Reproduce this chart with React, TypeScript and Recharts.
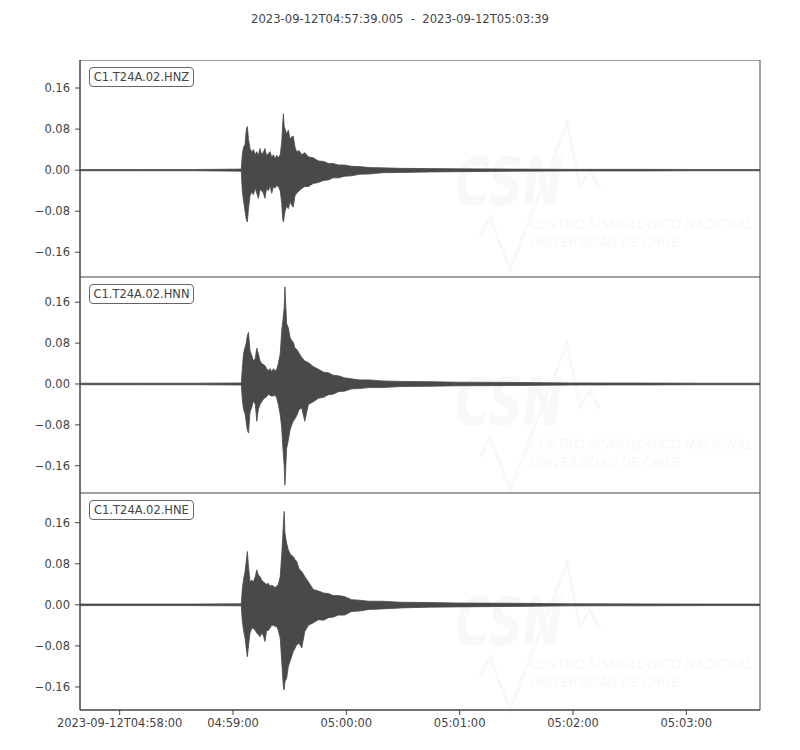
import React from 'react';
import { AreaChart, Area, XAxis, YAxis, ReferenceArea } from 'recharts';

// seconds after 2023-09-12T04:57:39.005
const seconds = [
  0, 30, 60, 85.4, 85.9, 86.6, 87.4, 88.0, 88.6, 89.2,
  90.0, 91.0, 91.8, 92.8, 93.6, 94.4, 95.3, 96.2, 97.1, 97.9,
  98.8, 99.7, 100.6, 101.5, 102.4, 103.3, 104.1, 105.0, 106.0, 106.8,
  107.3, 107.7, 108.1, 108.5, 109.4, 110.3, 111.2, 112.1, 112.9, 113.8,
  114.7, 116.0, 117.4, 119.0, 120.9, 123.5, 126.2, 129.0, 131.5, 134.0,
  136.8, 140.0, 143.8, 148, 153, 160, 170, 185, 200, 230,
  260, 300, 330, 360,
];

const hnzHi = [
  0.0012, 0.0012, 0.0012, 0.002, 0.030, 0.045, 0.050, 0.078, 0.085, 0.060,
  0.042, 0.035, 0.040, 0.030, 0.036, 0.028, 0.042, 0.030, 0.035, 0.042,
  0.028, 0.032, 0.036, 0.025, 0.030, 0.022, 0.029, 0.024, 0.030, 0.055,
  0.090, 0.110, 0.085, 0.081, 0.070, 0.078, 0.060, 0.065, 0.066, 0.045,
  0.036, 0.038, 0.030, 0.034, 0.026, 0.024, 0.018, 0.017, 0.013, 0.013,
  0.010, 0.010, 0.0075, 0.007, 0.005, 0.0045, 0.0035, 0.003, 0.0025, 0.002,
  0.0015, 0.0015, 0.0012, 0.0012,
];
const hnzLo = [
  -0.0012, -0.0012, -0.0012, -0.002, -0.040, -0.060, -0.080, -0.095, -0.101, -0.075,
  -0.050, -0.042, -0.048, -0.035, -0.045, -0.055, -0.038, -0.040, -0.045, -0.055,
  -0.035, -0.040, -0.030, -0.045, -0.032, -0.035, -0.030, -0.032, -0.040, -0.065,
  -0.095, -0.101, -0.090, -0.081, -0.070, -0.075, -0.062, -0.068, -0.072, -0.050,
  -0.045, -0.040, -0.036, -0.032, -0.032, -0.026, -0.024, -0.020, -0.019, -0.015,
  -0.015, -0.012, -0.011, -0.008, -0.0075, -0.005, -0.0045, -0.0035, -0.003, -0.002,
  -0.0015, -0.0015, -0.0012, -0.0012,
];

const hnnHi = [
  0.0015, 0.0015, 0.0015, 0.002, 0.030, 0.060, 0.072, 0.080, 0.095, 0.101,
  0.065, 0.055, 0.045, 0.050, 0.070, 0.060, 0.045, 0.040, 0.038, 0.036,
  0.030, 0.026, 0.030, 0.024, 0.030, 0.026, 0.028, 0.040, 0.059, 0.105,
  0.120, 0.135, 0.150, 0.190, 0.118, 0.110, 0.091, 0.085, 0.082, 0.070,
  0.068, 0.060, 0.052, 0.045, 0.042, 0.034, 0.029, 0.023, 0.022, 0.017,
  0.016, 0.012, 0.010, 0.008, 0.008, 0.006, 0.005, 0.0045, 0.0035, 0.003,
  0.002, 0.0018, 0.0015, 0.0015,
];
const hnnLo = [
  -0.0015, -0.0015, -0.0015, -0.002, -0.030, -0.050, -0.059, -0.075, -0.090, -0.096,
  -0.055, -0.045, -0.033, -0.040, -0.073, -0.050, -0.040, -0.035, -0.030, -0.027,
  -0.025, -0.020, -0.022, -0.024, -0.023, -0.022, -0.027, -0.040, -0.060, -0.086,
  -0.120, -0.139, -0.160, -0.198, -0.126, -0.110, -0.090, -0.080, -0.073, -0.068,
  -0.062, -0.050, -0.047, -0.073, -0.040, -0.035, -0.028, -0.026, -0.021, -0.020,
  -0.015, -0.014, -0.0095, -0.009, -0.007, -0.007, -0.005, -0.0045, -0.0035, -0.003,
  -0.002, -0.0018, -0.0015, -0.0015,
];

const hneHi = [
  0.0015, 0.0015, 0.0015, 0.002, 0.030, 0.050, 0.065, 0.085, 0.104, 0.075,
  0.045, 0.048, 0.045, 0.055, 0.068, 0.058, 0.055, 0.048, 0.045, 0.042,
  0.040, 0.042, 0.036, 0.038, 0.036, 0.034, 0.036, 0.040, 0.055, 0.0975,
  0.130, 0.160, 0.182, 0.140, 0.120, 0.107, 0.100, 0.096, 0.094, 0.088,
  0.085, 0.070, 0.065, 0.055, 0.045, 0.030, 0.027, 0.023, 0.022, 0.018,
  0.018, 0.016, 0.010, 0.009, 0.007, 0.007, 0.005, 0.0045, 0.0035, 0.003,
  0.002, 0.0018, 0.0015, 0.0015,
];
const hneLo = [
  -0.0015, -0.0015, -0.0015, -0.002, -0.030, -0.050, -0.065, -0.085, -0.101, -0.080,
  -0.055, -0.045, -0.046, -0.050, -0.055, -0.058, -0.062, -0.055, -0.060, -0.0715,
  -0.050, -0.050, -0.045, -0.040, -0.040, -0.042, -0.042, -0.050, -0.065, -0.110,
  -0.140, -0.160, -0.166, -0.150, -0.143, -0.120, -0.110, -0.100, -0.091, -0.085,
  -0.078, -0.075, -0.084, -0.052, -0.040, -0.035, -0.029, -0.030, -0.025, -0.024,
  -0.020, -0.020, -0.013, -0.012, -0.009, -0.008, -0.006, -0.0045, -0.004, -0.003,
  -0.002, -0.0018, -0.0015, -0.0015,
];

const traceIds = ['C1.T24A.02.HNZ', 'C1.T24A.02.HNN', 'C1.T24A.02.HNE'];

const xTickSeconds = [20.995, 80.995, 140.995, 200.995, 260.995, 320.995];
const xTickLabels = ['2023-09-12T04:58:00', '04:59:00', '05:00:00', '05:01:00', '05:02:00', '05:03:00'];
const yTicks = [-0.16, -0.08, 0, 0.08, 0.16];
const yTickLabels = ['\u22120.16', '\u22120.08', '0.00', '0.08', '0.16'];

const title = '2023-09-12T04:57:39.005  -  2023-09-12T05:03:39';

const rows = seconds.map((t, i) => ({
  t,
  hnz: [hnzLo[i], hnzHi[i]],
  hnn: [hnnLo[i], hnnHi[i]],
  hne: [hneLo[i], hneHi[i]],
}));

const INK = '#444';
const TRACE = '#494949';
const FONT = 'DejaVu Sans';

const panels = [
  { key: 'hnz', top: 60, height: 217, domain: [-0.2082, 0.2146] },
  { key: 'hnn', top: 277, height: 216, domain: [-0.2134, 0.2094] },
  { key: 'hne', top: 493, height: 217, domain: [-0.2049, 0.2179] },
];

// faint CSN watermark behind each panel
function Watermark({ dy }: { dy: number }) {
  const c = '#f8f8f8';
  return (
    <g transform={`translate(0, ${dy})`}>
      <text x={455} y={205} fill={c} fontFamily="DejaVu Sans Condensed" fontWeight="bold" fontStyle="italic" fontSize={66} textLength={108} lengthAdjust="spacingAndGlyphs">CSN</text>
      <polyline points="480,237 490,217 510,270 567,123 580,187 590,170 600,190" fill="none" stroke={c} strokeWidth={3} />
      <text x={530} y={229} fill={c} fontFamily="DejaVu Sans Condensed" fontStyle="italic" fontSize={14} textLength={223} lengthAdjust="spacingAndGlyphs">CENTRO SISMOLÓGICO NACIONAL</text>
      <text x={530} y={247} fill={c} fontFamily="DejaVu Sans Condensed" fontStyle="italic" fontSize={14} textLength={150} lengthAdjust="spacingAndGlyphs">UNIVERSIDAD DE CHILE</text>
    </g>
  );
}

function Panel({ dataKey, height, domain, showX }: { dataKey: string; height: number; domain: number[]; showX: boolean }) {
  return (
    <AreaChart width={800} height={showX ? height + 40 : height} data={rows} margin={{ top: 0, right: 40, bottom: 0, left: 0 }}>
      <XAxis
        type="number"
        dataKey="t"
        domain={[0, 360]}
        allowDataOverflow
        ticks={xTickSeconds}
        tickFormatter={(v: number) => xTickLabels[xTickSeconds.indexOf(v)] ?? ''}
        hide={!showX}
        height={40}
        stroke={INK}
        tickSize={5}
        tickMargin={4}
        tick={{ fill: INK, fontSize: 11.5, fontFamily: FONT }}
        interval={0}
      />
      <YAxis
        type="number"
        domain={domain}
        allowDataOverflow
        ticks={yTicks}
        tickFormatter={(v: number) => yTickLabels[yTicks.indexOf(v)] ?? ''}
        width={80}
        stroke={INK}
        tickSize={5}
        tickMargin={5}
        tick={{ fill: INK, fontSize: 11.5, fontFamily: FONT }}
        interval={0}
      />
      <Area
        type="linear"
        dataKey={dataKey}
        stroke={TRACE}
        strokeWidth={0.8}
        fill={TRACE}
        fillOpacity={1}
        dot={false}
        activeDot={false}
        isAnimationActive={false}
      />
      <ReferenceArea x1={0} x2={360} y1={domain[0]} y2={domain[1]} fill="none" stroke={INK} strokeWidth={1} ifOverflow="visible" />
    </AreaChart>
  );
}

export default function App() {
  return (
    <div style={{ position: 'absolute', left: 0, top: 0, width: 800, height: 750, background: '#fff', fontFamily: FONT }}>
      <svg width={800} height={750} style={{ position: 'absolute', left: 0, top: 0 }}>
        <Watermark dy={0} />
        <Watermark dy={220} />
        <Watermark dy={440} />
      </svg>
      <div style={{ position: 'absolute', left: 0, top: 12, width: 800, textAlign: 'center', fontSize: 11.6, color: INK, whiteSpace: 'pre' }}>
        {title}
      </div>
      {panels.map((p, i) => (
        <div key={p.key} style={{ position: 'absolute', left: 0, top: p.top }}>
          <Panel dataKey={p.key} height={p.height} domain={p.domain} showX={i === panels.length - 1} />
          <div
            style={{
              position: 'absolute',
              left: 89,
              top: 7,
              width: 103,
              height: 18,
              border: '1px solid #666',
              borderRadius: 4,
              background: '#fff',
              color: INK,
              fontSize: 11.5,
              lineHeight: '18px',
              textAlign: 'center',
              whiteSpace: 'pre',
            }}
          >
            {traceIds[i]}
          </div>
        </div>
      ))}
    </div>
  );
}
